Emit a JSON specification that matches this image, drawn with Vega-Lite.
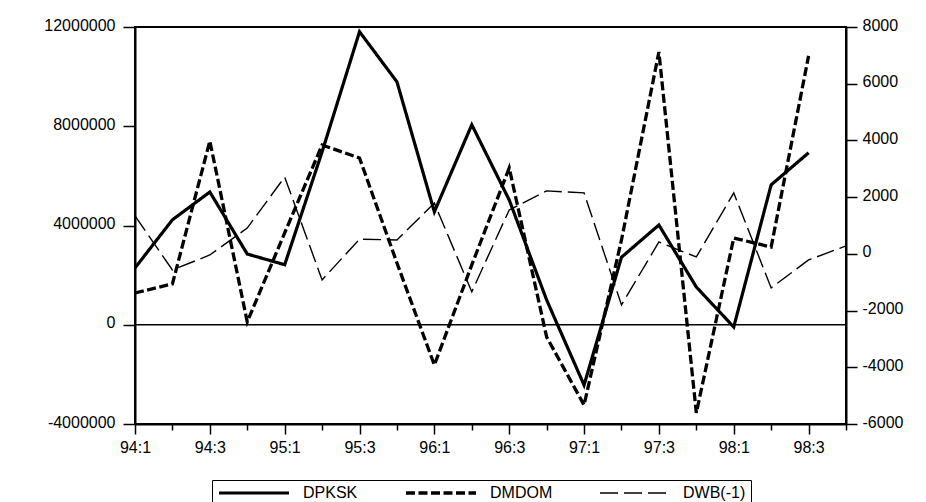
{
  "$schema": "https://vega.github.io/schema/vega-lite/v6.json",
  "width": 711,
  "height": 397,
  "autosize": {"type": "none"},
  "padding": {"left": 135, "top": 27, "right": 80, "bottom": 78},
  "background": "white",
  "config": {
    "view": {"stroke": "black", "strokeWidth": 2},
    "font": "Liberation Sans",
    "axis": {
      "labelFont": "Liberation Sans",
      "labelFontSize": 16,
      "labelColor": "black",
      "domainColor": "black",
      "domainWidth": 2,
      "tickColor": "black",
      "tickWidth": 1.5,
      "grid": false,
      "title": null
    },
    "legend": {
      "orient": "none",
      "legendX": 77,
      "legendY": 453,
      "direction": "horizontal",
      "title": null,
      "strokeColor": "black",
      "padding": 5,
      "symbolType": "stroke",
      "symbolSize": 4900,
      "symbolStrokeColor": "black",
      "labelFont": "Liberation Sans",
      "labelFontSize": 16,
      "labelColor": "black",
      "labelOffset": 12,
      "columnPadding": 46,
      "clipHeight": 16
    }
  },
  "datasets": {
    "series": [
      {"q": "94:1", "series": "DPKSK", "value": 2290000},
      {"q": "94:2", "series": "DPKSK", "value": 4230000},
      {"q": "94:3", "series": "DPKSK", "value": 5350000},
      {"q": "94:4", "series": "DPKSK", "value": 2850000},
      {"q": "95:1", "series": "DPKSK", "value": 2420000},
      {"q": "95:2", "series": "DPKSK", "value": 6970000},
      {"q": "95:3", "series": "DPKSK", "value": 11810000},
      {"q": "95:4", "series": "DPKSK", "value": 9790000},
      {"q": "96:1", "series": "DPKSK", "value": 4550000},
      {"q": "96:2", "series": "DPKSK", "value": 8060000},
      {"q": "96:3", "series": "DPKSK", "value": 5030000},
      {"q": "96:4", "series": "DPKSK", "value": 1000000},
      {"q": "97:1", "series": "DPKSK", "value": -2430000},
      {"q": "97:2", "series": "DPKSK", "value": 2720000},
      {"q": "97:3", "series": "DPKSK", "value": 4020000},
      {"q": "97:4", "series": "DPKSK", "value": 1520000},
      {"q": "98:1", "series": "DPKSK", "value": -90000},
      {"q": "98:2", "series": "DPKSK", "value": 5640000},
      {"q": "98:3", "series": "DPKSK", "value": 6930000},
      {"q": "94:1", "series": "DMDOM", "value": -1380},
      {"q": "94:2", "series": "DMDOM", "value": -1060},
      {"q": "94:3", "series": "DMDOM", "value": 3980},
      {"q": "94:4", "series": "DMDOM", "value": -2400},
      {"q": "95:1", "series": "DMDOM", "value": 740},
      {"q": "95:2", "series": "DMDOM", "value": 3840},
      {"q": "95:3", "series": "DMDOM", "value": 3380},
      {"q": "95:4", "series": "DMDOM", "value": -320},
      {"q": "96:1", "series": "DMDOM", "value": -3920},
      {"q": "96:2", "series": "DMDOM", "value": -390},
      {"q": "96:3", "series": "DMDOM", "value": 3030},
      {"q": "96:4", "series": "DMDOM", "value": -2930},
      {"q": "97:1", "series": "DMDOM", "value": -5330},
      {"q": "97:2", "series": "DMDOM", "value": 490},
      {"q": "97:3", "series": "DMDOM", "value": 7120},
      {"q": "97:4", "series": "DMDOM", "value": -5610},
      {"q": "98:1", "series": "DMDOM", "value": 560},
      {"q": "98:2", "series": "DMDOM", "value": 240},
      {"q": "98:3", "series": "DMDOM", "value": 6980},
      {"q": "94:1", "series": "DWB(-1)", "value": 1340},
      {"q": "94:2", "series": "DWB(-1)", "value": -570},
      {"q": "94:3", "series": "DWB(-1)", "value": -40},
      {"q": "94:4", "series": "DWB(-1)", "value": 910},
      {"q": "95:1", "series": "DWB(-1)", "value": 2710},
      {"q": "95:2", "series": "DWB(-1)", "value": -920},
      {"q": "95:3", "series": "DWB(-1)", "value": 520},
      {"q": "95:4", "series": "DWB(-1)", "value": 490},
      {"q": "96:1", "series": "DWB(-1)", "value": 1790},
      {"q": "96:2", "series": "DWB(-1)", "value": -1340},
      {"q": "96:3", "series": "DWB(-1)", "value": 1550},
      {"q": "96:4", "series": "DWB(-1)", "value": 2220},
      {"q": "97:1", "series": "DWB(-1)", "value": 2150},
      {"q": "97:2", "series": "DWB(-1)", "value": -1800},
      {"q": "97:3", "series": "DWB(-1)", "value": 420},
      {"q": "97:4", "series": "DWB(-1)", "value": -110},
      {"q": "98:1", "series": "DWB(-1)", "value": 2150},
      {"q": "98:2", "series": "DWB(-1)", "value": -1200},
      {"q": "98:3", "series": "DWB(-1)", "value": -215},
      {"q": "98:4", "series": "DWB(-1)", "value": 280}
    ]
  },
  "layer": [
    {
      "layer": [
        {
          "data": {"values": [{}]},
          "mark": {"type": "rule", "color": "black", "strokeWidth": 1.5},
          "encoding": {"y": {"datum": 0, "type": "quantitative"}}
        },
        {
          "data": {"name": "series"},
          "transform": [{"filter": "datum.series === 'DPKSK'"}],
          "mark": {"type": "line", "color": "black", "strokeJoin": "miter"},
          "encoding": {
            "x": {
              "field": "q", "type": "ordinal",
              "scale": {"type": "point", "padding": 0, "domain": ["94:1","94:2","94:3","94:4","95:1","95:2","95:3","95:4","96:1","96:2","96:3","96:4","97:1","97:2","97:3","97:4","98:1","98:2","98:3","98:4"]},
              "axis": {
                "orient": "bottom",
                "labelAngle": 0,
                "labelOverlap": false,
                "labelPadding": 5,
                "labelExpr": "(slice(datum.value,-1)=='1' || slice(datum.value,-1)=='3') ? datum.value : ''",
                "tickSize": {"condition": {"test": "slice(datum.value,-1)=='1' || slice(datum.value,-1)=='3'", "value": 10}, "value": 6}
              }
            },
            "y": {
              "field": "value", "type": "quantitative",
              "scale": {"domain": [-4000000, 12000000], "nice": false, "zero": false},
              "axis": {"orient": "left", "values": [-4000000, 0, 4000000, 8000000, 12000000], "format": "d", "labelExpr": "replace(datum.label, '\u2212', '-')", "tickSize": 12, "labelPadding": 8, "labelOffset": -2}
            },
            "strokeDash": {
              "field": "series", "type": "nominal",
              "scale": {"domain": ["DPKSK", "DMDOM", "DWB(-1)"], "range": [[1, 0], [9, 3.5], [18, 6]]}
            },
            "strokeWidth": {
              "field": "series", "type": "nominal",
              "scale": {"type": "ordinal", "domain": ["DPKSK", "DMDOM", "DWB(-1)"], "range": [3.2, 3.3, 1.4]}
            }
          }
        }
      ]
    },
    {
      "data": {"name": "series"},
      "transform": [{"filter": "datum.series !== 'DPKSK'"}],
      "mark": {"type": "line", "color": "black", "strokeJoin": "miter"},
      "encoding": {
        "x": {
          "field": "q", "type": "ordinal",
          "scale": {"type": "point", "padding": 0, "domain": ["94:1","94:2","94:3","94:4","95:1","95:2","95:3","95:4","96:1","96:2","96:3","96:4","97:1","97:2","97:3","97:4","98:1","98:2","98:3","98:4"]},
          "axis": {
            "orient": "bottom",
            "labelAngle": 0,
            "labelOverlap": false,
            "labelPadding": 5,
            "labelExpr": "(slice(datum.value,-1)=='1' || slice(datum.value,-1)=='3') ? datum.value : ''",
            "tickSize": {"condition": {"test": "slice(datum.value,-1)=='1' || slice(datum.value,-1)=='3'", "value": 10}, "value": 6}
          }
        },
        "y": {
          "field": "value", "type": "quantitative",
          "scale": {"domain": [-6000, 8000], "nice": false, "zero": false},
          "axis": {"orient": "right", "values": [-6000, -4000, -2000, 0, 2000, 4000, 6000, 8000], "format": "d", "labelExpr": "replace(datum.label, '\u2212', '-')", "tickSize": 11, "labelPadding": 5, "labelOffset": -2}
        },
        "strokeDash": {
          "field": "series", "type": "nominal",
          "scale": {"domain": ["DPKSK", "DMDOM", "DWB(-1)"], "range": [[1, 0], [9, 3.5], [18, 6]]}
        },
        "strokeWidth": {
          "field": "series", "type": "nominal",
          "scale": {"type": "ordinal", "domain": ["DPKSK", "DMDOM", "DWB(-1)"], "range": [3.2, 3.3, 1.4]}
        }
      }
    }
  ],
  "resolve": {"scale": {"y": "independent"}}
}
